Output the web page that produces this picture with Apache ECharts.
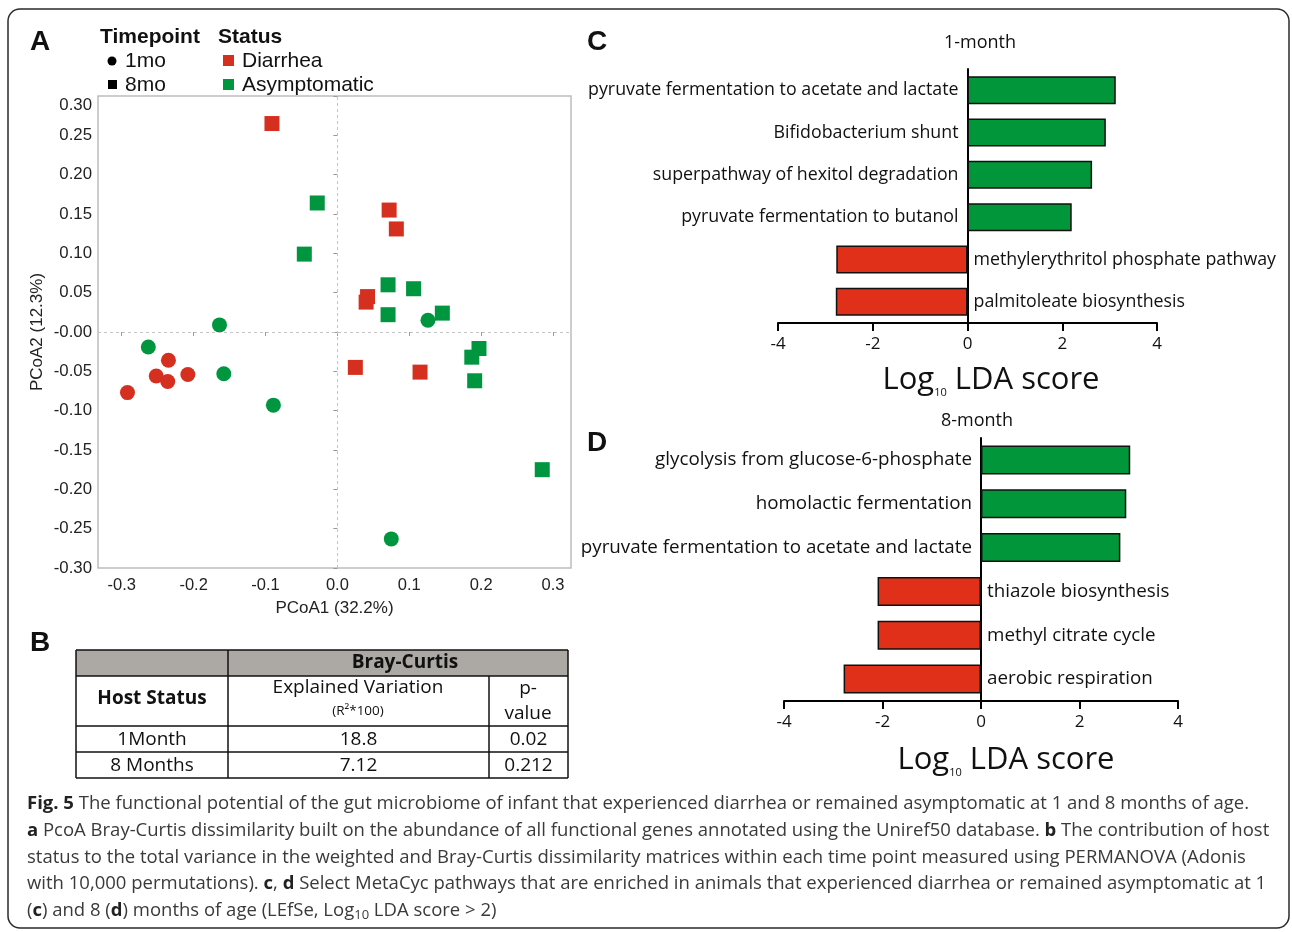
<!DOCTYPE html>
<html><head><meta charset="utf-8">
<script src="https://cdn.jsdelivr.net/npm/echarts@6/dist/echarts.min.js"></script>
<style>html,body{margin:0;padding:0;background:#fff}#chart{width:1292px;height:932px}</style>
</head><body><div id="chart"></div>
<script>
// ---------- Panel A data (PCoA1, PCoA2) ----------
const diarrhea1mo = [[-0.235,-0.036],[-0.252,-0.056],[-0.236,-0.063],[-0.208,-0.054],[-0.292,-0.077]];
const asymp1mo = [[-0.164,0.009],[-0.263,-0.019],[-0.158,-0.053],[-0.089,-0.093],[0.126,0.015],[0.075,-0.263]];
const diarrhea8mo = [[-0.091,0.265],[0.072,0.155],[0.082,0.131],[0.042,0.045],[0.040,0.038],[0.025,-0.045],[0.115,-0.051]];
const asymp8mo = [[-0.028,0.164],[-0.046,0.099],[0.0705,0.060],[0.106,0.055],[0.0705,0.022],[0.146,0.024],[0.197,-0.021],[0.187,-0.032],[0.191,-0.062],[0.285,-0.175]];
const pcoaXTicks = [-0.3,-0.2,-0.1,0,0.1,0.2,0.3];

// ---------- Panel B table ----------
const tableTitle = 'Bray-Curtis';
const tableRowHead = 'Host Status';
const tableColHeads = ['Explained Variation', '(R\u00b2*100)', 'p-', 'value'];
const tableRows = [['1Month','18.8','0.02'],['8 Months','7.12','0.212']];

// ---------- Panel C / D data (LEfSe) ----------
const pathwaysC = ['pyruvate fermentation to acetate and lactate','Bifidobacterium shunt','superpathway of hexitol degradation','pyruvate fermentation to butanol','methylerythritol phosphate pathway','palmitoleate biosynthesis'];
const ldaC = [3.13, 2.92, 2.63, 2.20, -2.77, -2.78];
const pathwaysD = ['glycolysis from glucose-6-phosphate','homolactic fermentation','pyruvate fermentation to acetate and lactate','thiazole biosynthesis','methyl citrate cycle','aerobic respiration'];
const ldaD = [3.03, 2.95, 2.83, -2.10, -2.10, -2.79];

const captionLines = [
  '{b|Fig. 5} The functional potential of the gut microbiome of infant that experienced diarrhea or remained asymptomatic at 1 and 8 months of age.',
  '{b|a} PcoA Bray-Curtis dissimilarity built on the abundance of all functional genes annotated using the Uniref50 database. {b|b} The contribution of host',
  'status to the total variance in the weighted and Bray-Curtis dissimilarity matrices within each time point measured using PERMANOVA (Adonis',
  'with 10,000 permutations). {b|c}, {b|d} Select MetaCyc pathways that are enriched in animals that experienced diarrhea or remained asymptomatic at 1',
  '({b|c}) and 8 ({b|d}) months of age (LEfSe, Log{s|10} LDA score > 2)'
];

const RED = '#d5301f', GREEN = '#00963f';
const BAR_RED = '#e0301a', BAR_GREEN = '#009639';
const ARIAL = 'Liberation Sans, Arial, sans-serif';
const MYRIAD = 'Open Sans, sans-serif';

const chart = echarts.init(document.getElementById('chart'), null, {renderer: 'canvas'});

function barData(vals) {
  return vals.map(v => ({
    value: v,
    itemStyle: {color: v >= 0 ? BAR_GREEN : BAR_RED},
    label: {position: v >= 0 ? 'left' : 'right', distance: v >= 0 ? 9 : 6}
  }));
}

function ldaXAxis(gridIndex) {
  return {
    type: 'value', gridIndex, min: -4, max: 4, interval: 2,
    axisLine: {show: true, onZero: false, lineStyle: {color: '#000', width: 2}},
    axisTick: {show: true, length: 8, lineStyle: {color: '#000', width: 2}},
    axisLabel: {fontFamily: MYRIAD, fontSize: 17, color: '#111', margin: 13},
    splitLine: {show: false}
  };
}
function ldaYAxis(gridIndex, cats) {
  return {
    type: 'category', gridIndex, data: cats, inverse: true,
    axisLine: {show: true, onZero: true, lineStyle: {color: '#000', width: 2}},
    axisTick: {show: false}, axisLabel: {show: false}, splitLine: {show: false}
  };
}

// graphic elements
const graphics = [];
graphics.push({type: 'rect', shape: {x: 8, y: 9, width: 1281, height: 919, r: 12}, style: {fill: 'none', stroke: '#2a2a2a', lineWidth: 1.5}, silent: true});
[['A', 30, 42], ['B', 30, 643], ['C', 587, 42], ['D', 587, 443]].forEach(([t, x, y]) => {
  graphics.push({type: 'text', x, y, style: {text: t, font: 'bold 28px ' + ARIAL, fill: '#111', textVerticalAlign: 'middle'}});
});
// legend panel A
graphics.push({type: 'text', x: 100, y: 37, style: {text: 'Timepoint', font: 'bold 21px ' + ARIAL, fill: '#111', textVerticalAlign: 'middle'}});
graphics.push({type: 'text', x: 218, y: 37, style: {text: 'Status', font: 'bold 21px ' + ARIAL, fill: '#111', textVerticalAlign: 'middle'}});
graphics.push({type: 'circle', shape: {cx: 112, cy: 61, r: 4.5}, style: {fill: '#000'}});
graphics.push({type: 'rect', shape: {x: 108, y: 80, width: 9, height: 9}, style: {fill: '#000'}});
graphics.push({type: 'text', x: 125, y: 61, style: {text: '1mo', font: '21px ' + ARIAL, fill: '#111', textVerticalAlign: 'middle'}});
graphics.push({type: 'text', x: 125, y: 85, style: {text: '8mo', font: '21px ' + ARIAL, fill: '#111', textVerticalAlign: 'middle'}});
graphics.push({type: 'rect', shape: {x: 223, y: 55, width: 11, height: 11}, style: {fill: RED}});
graphics.push({type: 'rect', shape: {x: 223, y: 79, width: 11, height: 11}, style: {fill: GREEN}});
graphics.push({type: 'text', x: 242, y: 61, style: {text: 'Diarrhea', font: '21px ' + ARIAL, fill: '#111', textVerticalAlign: 'middle'}});
graphics.push({type: 'text', x: 242, y: 85, style: {text: 'Asymptomatic', font: '21px ' + ARIAL, fill: '#111', textVerticalAlign: 'middle'}});

// table panel B
const tx = [76, 228, 489, 568], ty = [650, 676, 726, 752, 778];
graphics.push({type: 'rect', shape: {x: tx[0], y: ty[0], width: tx[3] - tx[0], height: ty[1] - ty[0]}, style: {fill: '#aca8a4'}});
const L = (x1, y1, x2, y2) => graphics.push({type: 'line', shape: {x1, y1, x2, y2}, style: {stroke: '#111', lineWidth: 1.5}});
L(tx[0], ty[0], tx[3], ty[0]); L(tx[0], ty[4], tx[3], ty[4]);
L(tx[0], ty[0], tx[0], ty[4]); L(tx[3], ty[0], tx[3], ty[4]);
L(tx[0], ty[1], tx[3], ty[1]); L(tx[0], ty[2], tx[3], ty[2]); L(tx[0], ty[3], tx[3], ty[3]);
L(tx[1], ty[0], tx[1], ty[4]); L(tx[2], ty[1], tx[2], ty[4]);
const T = (text, x, y, font) => graphics.push({type: 'text', x, y, style: {text, font, fill: '#111', textAlign: 'center', textVerticalAlign: 'middle'}});
T(tableTitle, 405, 663, 'bold 19px ' + MYRIAD);
T(tableRowHead, 152, 699, 'bold 19px ' + MYRIAD);
T(tableColHeads[0], 358, 688, '19px ' + MYRIAD);
T(tableColHeads[1], 358, 711, '13.5px ' + MYRIAD);
T(tableColHeads[2], 528, 689, '19px ' + MYRIAD);
T(tableColHeads[3], 528, 714, '19px ' + MYRIAD);
tableRows.forEach((row, i) => {
  const cy = (ty[2 + i] + ty[3 + i]) / 2 + 1;
  row.forEach((cell, j) => T(cell, (tx[j] + tx[j + 1]) / 2, cy, '19px ' + MYRIAD));
});

// titles and LDA axis names
graphics.push({type: 'text', x: 980, y: 43, style: {text: '1-month', font: '18px ' + MYRIAD, fill: '#111', textAlign: 'center', textVerticalAlign: 'middle'}});
graphics.push({type: 'text', x: 977, y: 421, style: {text: '8-month', font: '18px ' + MYRIAD, fill: '#111', textAlign: 'center', textVerticalAlign: 'middle'}});
const ldaName = {text: '{a|Log}{s|10}{a| LDA score}', rich: {a: {fontFamily: MYRIAD, fontSize: 31, lineHeight: 36, fill: '#111'}, s: {fontFamily: MYRIAD, fontSize: 11, lineHeight: 20, verticalAlign: 'bottom', fill: '#111'}}, textAlign: 'center', textVerticalAlign: 'middle'};
graphics.push({type: 'text', x: 991, y: 380, style: Object.assign({}, ldaName)});
graphics.push({type: 'text', x: 1006, y: 760, style: Object.assign({}, ldaName)});

// caption
captionLines.forEach((line, i) => {
  graphics.push({type: 'text', x: 27, y: 804 + i * 26.7, style: {
    text: line, fontFamily: MYRIAD, fontSize: 18.5, fill: '#3a3a3a', textVerticalAlign: 'middle',
    rich: {b: {fontFamily: MYRIAD, fontSize: 18.5, fontWeight: 'bold', fill: '#222'}, s: {fontFamily: MYRIAD, fontSize: 13, fill: '#3a3a3a', padding: [8, 0, 0, 0]}}
  }});
});

const option = {
  backgroundColor: '#fff',
  animation: false,
  grid: [
    {left: 98, top: 96, width: 473, height: 472, show: true, borderColor: '#bdbdbd', borderWidth: 1.5, containLabel: false},
    {left: 778, top: 69, width: 379, height: 254, containLabel: false},
    {left: 784, top: 438, width: 394, height: 263, containLabel: false}
  ],
  xAxis: [
    {type: 'value', gridIndex: 0, min: -0.333, max: 0.325,
     name: 'PCoA1 (32.2%)', nameLocation: 'middle', nameGap: 32,
     nameTextStyle: {fontFamily: ARIAL, fontSize: 17, color: '#222'},
     axisLine: {show: false},
     axisTick: {show: true, length: 4, customValues: pcoaXTicks, lineStyle: {color: '#999'}},
     axisLabel: {customValues: pcoaXTicks, fontFamily: ARIAL, fontSize: 16.5, color: '#222', margin: 9, formatter: v => v.toFixed(1)},
     splitLine: {show: false}},
    ldaXAxis(1), ldaXAxis(2)
  ],
  yAxis: [
    {type: 'value', gridIndex: 0, min: -0.30, max: 0.30, interval: 0.05,
     name: 'PCoA2 (12.3%)', nameLocation: 'middle', nameGap: 52, nameRotate: 90,
     nameTextStyle: {fontFamily: ARIAL, fontSize: 17, color: '#222'},
     axisLine: {show: false},
     axisTick: {show: true, length: 4, lineStyle: {color: '#999'}},
     axisLabel: {fontFamily: ARIAL, fontSize: 16.8, color: '#222', margin: 6,
       formatter: v => Math.abs(v - 0.3) < 1e-9 ? '{t|0.30}' : (Math.abs(v) < 1e-9 ? '-0.00' : v.toFixed(2)),
       rich: {t: {fontFamily: ARIAL, fontSize: 16.8, color: '#222', padding: [18, 0, 0, 0]}}},
     splitLine: {show: false}},
    ldaYAxis(1, pathwaysC), ldaYAxis(2, pathwaysD)
  ],
  series: [
    {type: 'scatter', name: 'Diarrhea 1mo', xAxisIndex: 0, yAxisIndex: 0, data: diarrhea1mo, symbol: 'circle', symbolSize: 15, itemStyle: {color: RED, opacity: 1},
     markLine: {silent: true, symbol: 'none', label: {show: false}, lineStyle: {type: [3, 3], color: '#c4c4c4', width: 1}, data: [{xAxis: 0}, {yAxis: 0}]}},
    {type: 'scatter', name: 'Asymptomatic 1mo', xAxisIndex: 0, yAxisIndex: 0, data: asymp1mo, symbol: 'circle', symbolSize: 15, itemStyle: {color: GREEN, opacity: 1}},
    {type: 'scatter', name: 'Diarrhea 8mo', xAxisIndex: 0, yAxisIndex: 0, data: diarrhea8mo, symbol: 'rect', symbolSize: 15, itemStyle: {color: RED, opacity: 1}},
    {type: 'scatter', name: 'Asymptomatic 8mo', xAxisIndex: 0, yAxisIndex: 0, data: asymp8mo, symbol: 'rect', symbolSize: 15, itemStyle: {color: GREEN, opacity: 1}},
    {type: 'bar', xAxisIndex: 1, yAxisIndex: 1, data: barData(ldaC), barCategoryGap: '34%',
     itemStyle: {borderColor: '#111', borderWidth: 1.5},
     label: {show: true, formatter: '{b}', fontFamily: MYRIAD, fontSize: 17.8, color: '#111'}},
    {type: 'bar', xAxisIndex: 2, yAxisIndex: 2, data: barData(ldaD), barCategoryGap: '34%',
     itemStyle: {borderColor: '#111', borderWidth: 1.5},
     label: {show: true, formatter: '{b}', fontFamily: MYRIAD, fontSize: 18.8, color: '#111'}}
  ],
  graphic: graphics
};
chart.setOption(option);
</script>
</body></html>
